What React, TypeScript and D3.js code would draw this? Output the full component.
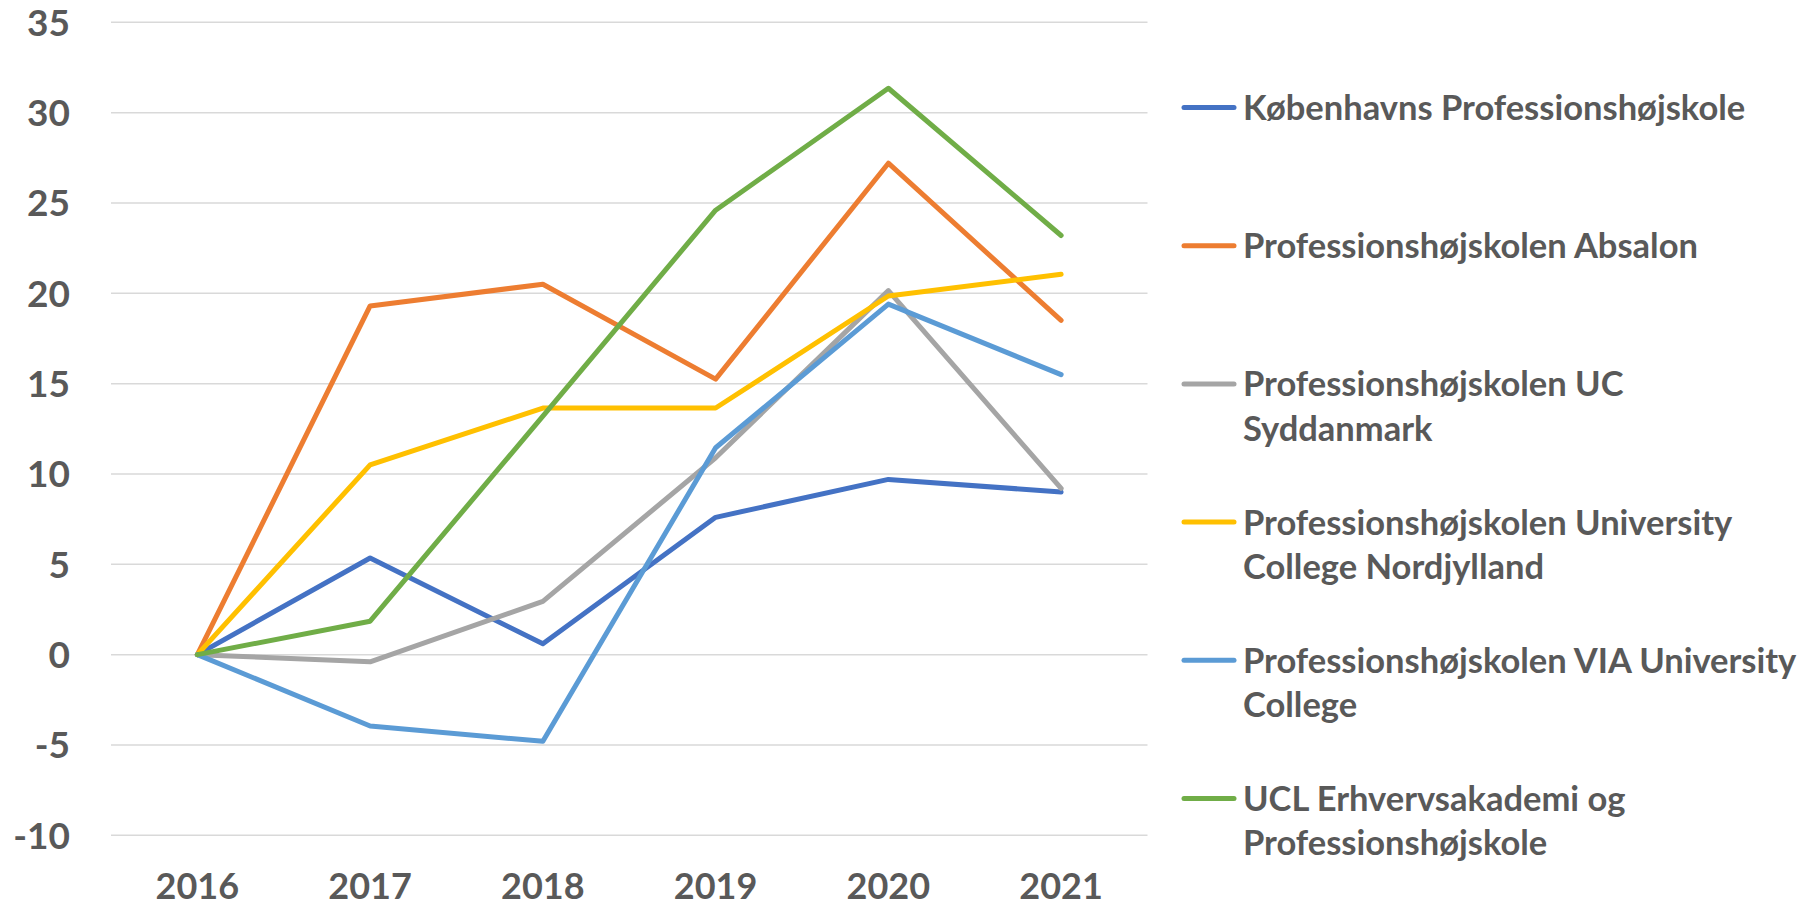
import * as d3 from "d3";

// categories and values
const years = ["2016", "2017", "2018", "2019", "2020", "2021"];
const yTicks = [-10, -5, 0, 5, 10, 15, 20, 25, 30, 35];

const kp = [0, 5.35, 0.6, 7.6, 9.7, 9.0];
const absalon = [0, 19.3, 20.5, 15.25, 27.2, 18.5];
const ucSyd = [0, -0.4, 2.95, 10.9, 20.15, 9.2];
const ucn = [0, 10.5, 13.65, 13.65, 19.85, 21.05];
const via = [0, -3.95, -4.8, 11.45, 19.4, 15.5];
const ucl = [0, 1.85, 13.2, 24.6, 31.35, 23.2];

const seriesNames = [
  "Københavns Professionshøjskole",
  "Professionshøjskolen Absalon",
  "Professionshøjskolen UC Syddanmark",
  "Professionshøjskolen University College Nordjylland",
  "Professionshøjskolen VIA University College",
  "UCL Erhvervsakademi og Professionshøjskole",
];
// how the legend wraps the names
const legendLines = [
  ["Københavns Professionshøjskole"],
  ["Professionshøjskolen Absalon"],
  ["Professionshøjskolen UC", "Syddanmark"],
  ["Professionshøjskolen University", "College Nordjylland"],
  ["Professionshøjskolen VIA University", "College"],
  ["UCL Erhvervsakademi og", "Professionshøjskole"],
];
const colors = ["#4472C4", "#ED7D31", "#A5A5A5", "#FFC000", "#5B9BD5", "#70AD47"];

const allSeries = [kp, absalon, ucSyd, ucn, via, ucl];

export default function App() {
  const width = 1812;
  const height = 908;
  const left = 111;
  const right = 1147.5;

  const x = d3.scaleBand().domain(years).range([left, right]);
  const y = d3.scaleLinear().domain([-10, 35]).range([835.3, 22.3]);

  const line = d3
    .line<number>()
    .x((_, i) => (x(years[i]) as number) + x.bandwidth() / 2)
    .y((d) => y(d));

  const font = "Lato, 'Open Sans', sans-serif";
  const textColor = "#595959";

  return (
    <svg
      width={width}
      height={height}
      style={{ position: "absolute", left: 0, top: 0, background: "#fff" }}
    >
      {/* gridlines */}
      {yTicks.map((t) => (
        <line
          key={t}
          x1={left}
          x2={right}
          y1={y(t)}
          y2={y(t)}
          stroke="#D9D9D9"
          strokeWidth={1.5}
        />
      ))}
      {/* y labels */}
      {yTicks.map((t) => (
        <text
          key={"l" + t}
          x={70}
          y={y(t)}
          dy="0.36em"
          textAnchor="end"
          fontFamily={font}
          fontWeight="bold"
          fontSize={37}
          fill={textColor}
        >
          {t}
        </text>
      ))}
      {/* x labels */}
      {years.map((yr) => (
        <text
          key={yr}
          x={(x(yr) as number) + x.bandwidth() / 2}
          y={899}
          textAnchor="middle"
          fontFamily={font}
          fontWeight="bold"
          fontSize={36}
          fill={textColor}
        >
          {yr}
        </text>
      ))}
      {/* lines */}
      {allSeries.map((s, i) => (
        <path
          key={seriesNames[i]}
          d={line(s) || ""}
          fill="none"
          stroke={colors[i]}
          strokeWidth={5}
          strokeLinejoin="round"
          strokeLinecap="round"
        />
      ))}
      {/* legend */}
      {seriesNames.map((name, i) => {
        const cy = 107.5 + i * 138.2;
        return (
          <g key={"leg" + name}>
            <line
              x1={1184}
              x2={1234}
              y1={cy}
              y2={cy}
              stroke={colors[i]}
              strokeWidth={5}
              strokeLinecap="round"
            />
            {legendLines[i].map((ln, j) => (
              <text
                key={ln}
                x={1243}
                y={cy + j * 44.5}
                dy="0.36em"
                fontFamily={font}
                fontWeight="bold"
                fontSize={34.5}
                fill={textColor}
              >
                {ln}
              </text>
            ))}
          </g>
        );
      })}
    </svg>
  );
}
